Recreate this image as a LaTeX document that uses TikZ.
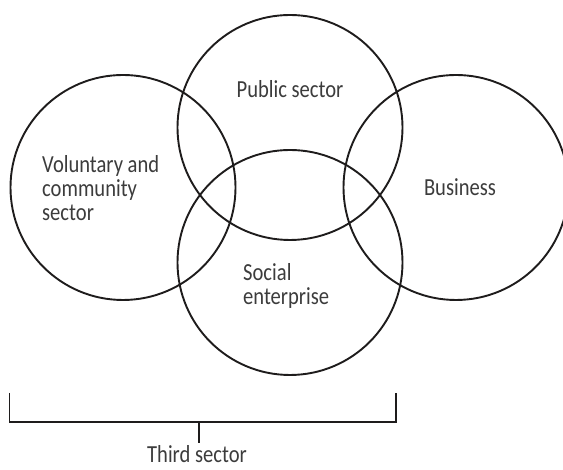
\documentclass[tikz,border=0pt]{standalone}
\usepackage{fontspec}
\setmainfont{Carlito}[FakeStretch=0.84]
\usepackage{tikz}

\definecolor{ink}{HTML}{1E1C1C}
\definecolor{txt}{HTML}{3C3C3C}

\begin{document}
\begin{tikzpicture}[x=1pt,y=1pt,
    ring/.style={draw=ink,line width=1.9pt},
    lbl/.style={inner sep=0pt,text=txt,font=\fontsize{24.5}{24}\selectfont}]
  \useasboundingbox (0,0) rectangle (563,470);
  \clip (0,0) rectangle (563,470);
  % the four sectors
  \draw[ring] (123,282.5) coordinate (vol) circle[radius=112.5];
  \draw[ring] (290,342.5) coordinate (pub) circle[radius=112.5];
  \draw[ring] (290,207.5) coordinate (soc) circle[radius=112.5];
  \draw[ring] (456,282.5) coordinate (bus) circle[radius=112.5];
  \node[lbl,anchor=base] (publbl) at (290,372) {Public sector};
  \node[lbl,anchor=base] (buslbl) at (460,274) {Business};
  % base of a two- or three-line label sits on its last line
  \node[lbl,anchor=base west,align=left] (vollbl) at (42,249) {Voluntary and\\community\\sector};
  \node[lbl,anchor=base west,align=left] (soclbl) at (243,165) {Social\\enterprise};
  % bracket
  \draw[ink,line width=1.9pt] (9.5,77) -- (9.5,48) -- (396,48) -- (396,77);
  \draw[ink,line width=1.9pt] (199,48) coordinate (mid) -- (199,27) coordinate (tip);
  \node[lbl,anchor=base] (third) at (197,7) {Third sector};
\end{tikzpicture}
\end{document}
